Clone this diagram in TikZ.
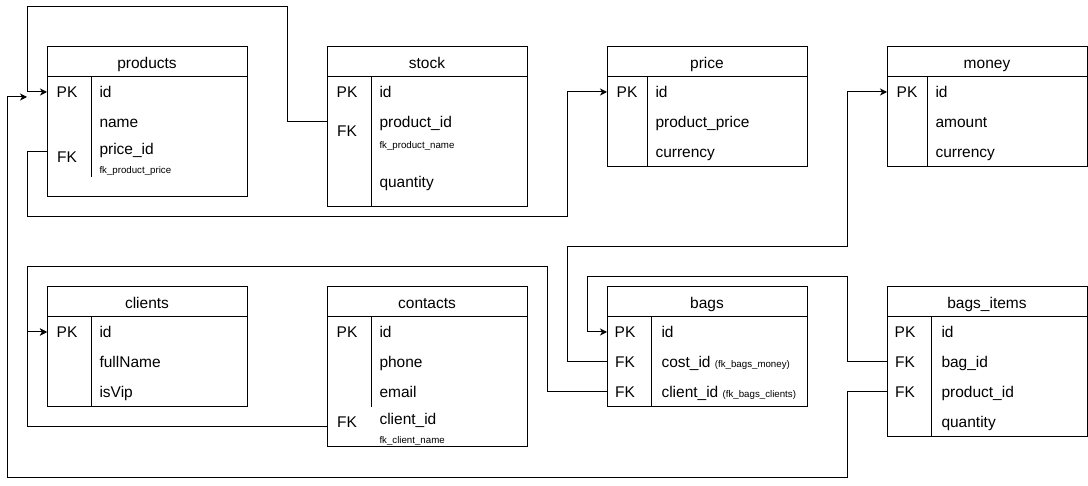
\documentclass[tikz,border=0pt]{standalone}
\usepackage{fontspec}
\setmainfont{Liberation Sans}
\usetikzlibrary{arrows.meta}
\begin{document}
\begin{tikzpicture}[x=1pt, y=-1pt, line width=1pt,
  tbl/.style={draw, anchor=north west, minimum width=200pt, inner sep=0pt, outer sep=0pt},
  key/.style={font=\fontsize{15.5}{18}\selectfont, inner sep=0pt, text height=11pt, text depth=0pt},
  hdr/.style={key},
  fld/.style={key, anchor=west},
  sub/.style={anchor=west, inner sep=0pt, font=\fontsize{9.7}{11}\selectfont, text height=7pt, text depth=0pt},
  fk/.style={-{Stealth[length=7pt, width=7pt, inset=2pt]}}]
\useasboundingbox (0,0) rectangle (1088,486);
% tables
\node[tbl, minimum height=150pt] (products) at (47,47) {};
\node[tbl, minimum height=160pt] (stock) at (327,47) {};
\node[tbl, minimum height=120pt] (price) at (607,47) {};
\node[tbl, minimum height=120pt] (money) at (887,47) {};
\node[tbl, minimum height=120pt] (clients) at (47,287) {};
\node[tbl, minimum height=160pt] (contacts) at (327,287) {};
\node[tbl, minimum height=120pt] (bags) at (607,287) {};
\node[tbl, minimum height=150pt] (bagitems) at (887,287) {};
\foreach \t/\d/\l in {products/44/100, stock/44/130, price/40/90, money/40/90,
    clients/44/90, contacts/44/90, bags/44/90, bagitems/44/120} {
  \draw ([yshift=-30pt]\t.north west) -- ([yshift=-30pt]\t.north east);
  \draw ([xshift=\d, yshift=-30pt]\t.north west) -- ++(0,\l);
}
% products
\node[hdr] (products-h) at (147,63) {products};
\node[key] (products-pk) at (67,92) {PK};
\node[fld] (products-id) at (99,92) {id};
\node[fld] (products-name) at (99,122) {name};
\node[key] (products-fk) at (67,157) {FK};
\node[fld] (products-price) at (99,149) {price\_id};
\node[sub] (products-fkname) at (99,170) {fk\_product\_price};
% stock
\node[hdr] (stock-h) at (427,63) {stock};
\node[key] (stock-pk) at (347,92) {PK};
\node[fld] (stock-id) at (379,92) {id};
\node[key] (stock-fk) at (347,131) {FK};
\node[fld] (stock-pid) at (379,122) {product\_id};
\node[sub] (stock-fkname) at (379,145) {fk\_product\_name};
\node[fld] (stock-qty) at (379,182) {quantity};
% price
\node[hdr] (price-h) at (707,63) {price};
\node[key] (price-pk) at (627,92) {PK};
\node[fld] (price-id) at (655,92) {id};
\node[fld] (price-value) at (655,122) {product\_price};
\node[fld] (price-cur) at (655,152) {currency};
% money
\node[hdr] (money-h) at (987,63) {money};
\node[key] (money-pk) at (907,92) {PK};
\node[fld] (money-id) at (935,92) {id};
\node[fld] (money-amount) at (935,122) {amount};
\node[fld] (money-cur) at (935,152) {currency};
% clients
\node[hdr] (clients-h) at (147,303) {clients};
\node[key] (clients-pk) at (67,332) {PK};
\node[fld] (clients-id) at (99,332) {id};
\node[fld] (clients-name) at (99,362) {fullName};
\node[fld] (clients-vip) at (99,392) {isVip};
% contacts
\node[hdr] (contacts-h) at (427,303) {contacts};
\node[key] (contacts-pk) at (347,332) {PK};
\node[fld] (contacts-id) at (379,332) {id};
\node[fld] (contacts-phone) at (379,362) {phone};
\node[fld] (contacts-email) at (379,392) {email};
\node[key] (contacts-fk) at (347,422) {FK};
\node[fld] (contacts-cid) at (379,419) {client\_id};
\node[sub] (contacts-fkname) at (379,440) {fk\_client\_name};
% bags
\node[hdr] (bags-h) at (707,303) {bags};
\node[key] (bags-pk) at (625,332) {PK};
\node[fld] (bags-id) at (661,332) {id};
\node[key] (bags-fk1) at (625,362) {FK};
\node[fld] (bags-cost) at (661,362) {cost\_id {\fontsize{9.7}{11}\selectfont (fk\_bags\_money)}};
\node[key] (bags-fk2) at (625,392) {FK};
\node[fld] (bags-client) at (661,392) {client\_id {\fontsize{9.7}{11}\selectfont (fk\_bags\_clients)}};
% bags_items
\node[hdr] (bagitems-h) at (987,303) {bags\_items};
\node[key] (bagitems-pk) at (905,332) {PK};
\node[fld] (bagitems-id) at (941,332) {id};
\node[key] (bagitems-fk1) at (905,362) {FK};
\node[fld] (bagitems-bag) at (941,362) {bag\_id};
\node[key] (bagitems-fk2) at (905,392) {FK};
\node[fld] (bagitems-prod) at (941,392) {product\_id};
\node[fld] (bagitems-qty) at (941,422) {quantity};
\coordinate (products-in) at (27,97);
% arrows
\draw[fk] (stock.west |- stock-pid) -| (287,7) -| (27,92) -- (products.west |- products-pk);
\draw[fk] ([yshift=-105pt]products.north west) -- ++(-20,0) |- (567,217) |- (price.west |- price-pk);
\draw[fk] (bagitems.west |- bagitems-prod) -| (847,477) -| (7,97) -- (products-in);
\draw[fk] ([yshift=20pt]contacts.south west) -| (27,332) -- (clients.west |- clients-pk);
\draw[fk] (bags.west |- bags-client) -| (547,267) -| (27,332) -- (clients.west |- clients-pk);
\draw[fk] (bags.west |- bags-cost) -| (567,247) -| (847,92) -- (money.west |- money-pk);
\draw[fk] (bagitems.west |- bagitems-bag) -| (847,277) -| (587,332) -- (bags.west |- bags-pk);
\end{tikzpicture}
\end{document}
